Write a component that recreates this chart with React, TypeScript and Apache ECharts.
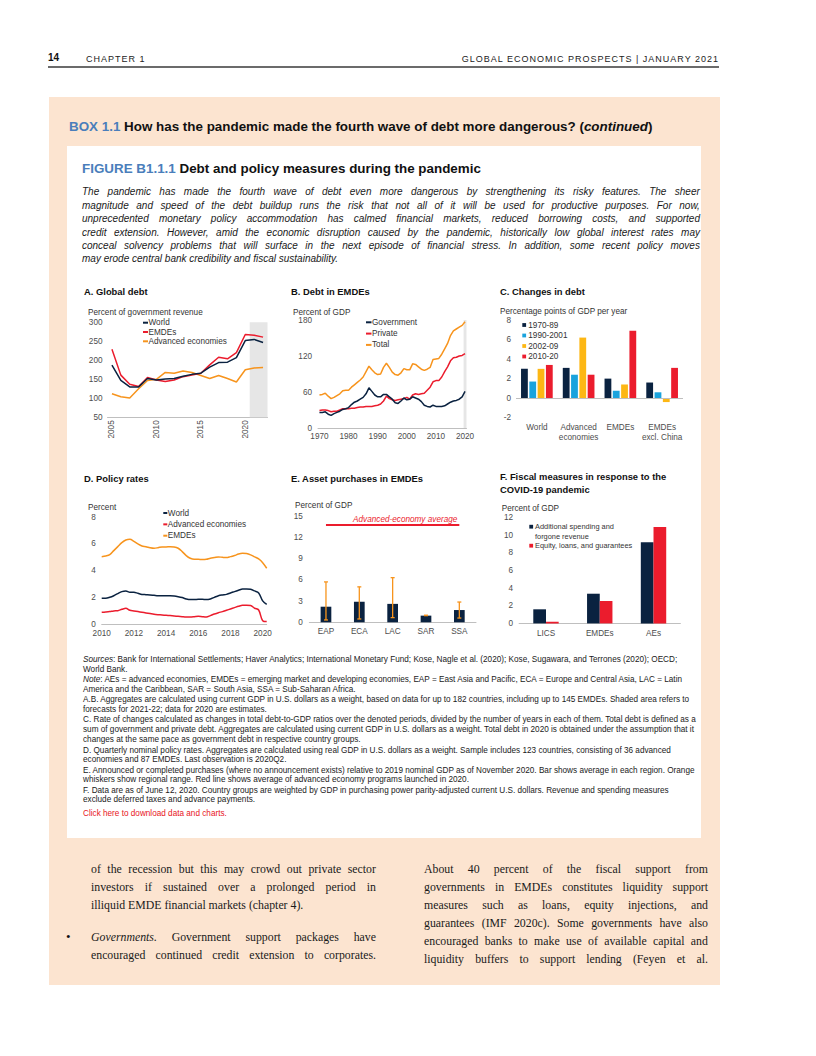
import React, { useEffect, useRef } from "react";
import * as echarts from "echarts";

const FONT = 'Arial, "Liberation Sans", Helvetica, sans-serif';
const SERIF = '"Liberation Serif", "Times New Roman", serif';
const NAVY = "#0A2240";
const RED = "#EB1C2D";
const ORANGE = "#F7941D";
const GOLD = "#FDB714";
const CYAN = "#1AA3DD";
const SHADE = "#E6E6E6";
const AXIS = "#BFBFBF";
const TICK = "#4D4D4D";
const BLUE_HEAD = "#4A7EBB";
const PEACH = "#FCE4D0";
const FS = 8.2;

// ---------- Panel A: Global debt (percent of government revenue) ----------
const yearsA = ["2005", "2006", "2007", "2008", "2009", "2010", "2011", "2012", "2013", "2014", "2015", "2016", "2017", "2018", "2019", "2020", "2021", "2022"];
const worldA = [187, 147, 130, 130, 152, 148, 151, 152, 158, 163, 166, 182, 194, 195, 207, 252, 255, 247];
const emdeA = [229, 161, 137, 131, 155, 148, 144, 148, 157, 161, 166, 188, 208, 204, 220, 268, 266, 261];
const advA = [112, 104, 101, 125, 147, 150, 168, 166, 172, 168, 160, 152, 160, 152, 143, 175, 180, 181];
const yRangeA = [50, 300, 50];
const forecastStartA = "2021";

// ---------- Panel B: Debt in EMDEs (percent of GDP) ----------
const yearsB = Array.from({ length: 51 }, (_, i) => String(1970 + i));
const govB = [26, 26, 27, 23, 21, 24, 26, 28, 31, 32,
  34, 39, 43, 45, 48, 51, 57, 67, 61, 55,
  52, 52, 56, 56, 52, 48, 42, 41, 45, 50,
  47, 48, 52, 50, 48, 44, 38, 36, 35, 38,
  36, 36, 36, 37, 40, 43, 45, 46, 48, 52,
  61];
const privB = [29, 30, 30, 29, 27, 28, 28, 30, 32, 32,
  32, 33, 33, 34, 35, 35, 36, 36, 36, 37,
  38, 40, 45, 53, 49, 47, 46, 47, 48, 49,
  51, 48, 55, 57, 56, 57, 58, 63, 68, 77,
  79, 79, 85, 94, 102, 112, 117, 118, 120, 121,
  124];
const totalB = [55, 56, 58, 53, 49, 51, 54, 57, 62, 63,
  63, 68, 72, 76, 80, 85, 94, 103, 97, 92,
  89, 90, 101, 108, 101, 93, 89, 88, 92, 99,
  97, 97, 107, 106, 102, 98, 96, 98, 101, 114,
  115, 116, 123, 132, 141, 154, 162, 165, 168, 171,
  177];
const yRangeB = [0, 180, 60];

// ---------- Panel C: Changes in debt ----------
const groupsC = ["World", "Advanced\neconomies", "EMDEs", "EMDEs\nexcl. China"];
const periodsC = ["1970-89", "1990-2001", "2002-09", "2010-20"];
const p1C = [3.0, 3.1, 2.0, 1.6];
const p2C = [1.7, 2.4, 0.75, 0.6];
const p3C = [3.0, 6.2, 1.4, -0.4];
const p4C = [3.4, 2.4, 6.9, 3.1];
const yRangeC = [-2, 8, 2];

// ---------- Panel D: Policy rates ----------
const quartersD: string[] = [];
for (let y = 2010; y <= 2020; y++) for (let q = 1; q <= 4; q++) if (!(y === 2020 && q > 2)) quartersD.push(`${y}Q${q}`);
const worldD = [1.93, 1.93, 2.0, 2.12, 2.28, 2.43, 2.48, 2.38, 2.38, 2.3, 2.22, 2.2, 2.18, 2.15, 2.12, 2.12,
  2.12, 2.12, 2.1, 2.05, 1.98, 1.88, 1.83, 1.83, 1.85, 1.85, 1.83, 1.88, 2.0, 2.12, 2.18, 2.22,
  2.33, 2.43, 2.53, 2.63, 2.63, 2.6, 2.48, 2.33, 1.73, 1.48];
const advD = [0.88, 0.9, 0.93, 0.98, 1.0, 1.1, 1.18, 1.03, 0.98, 0.93, 0.88, 0.83, 0.78, 0.73, 0.7, 0.68,
  0.65, 0.63, 0.6, 0.58, 0.55, 0.53, 0.53, 0.55, 0.58, 0.55, 0.53, 0.63, 0.75, 0.85, 0.93, 1.03,
  1.13, 1.23, 1.33, 1.4, 1.4, 1.38, 1.18, 1.05, 0.25, 0.18];
const emdeD = [5.05, 5.1, 5.2, 5.5, 5.8, 6.1, 6.3, 6.35, 6.2, 6.0, 5.85, 5.8, 5.72, 5.68, 5.72, 5.78,
  5.78, 5.8, 5.78, 5.68, 5.43, 5.13, 4.93, 4.85, 4.85, 4.83, 4.85, 4.93, 4.98, 5.03, 5.0, 4.98,
  5.05, 5.13, 5.25, 5.3, 5.28, 5.18, 5.03, 4.88, 4.6, 4.18];
const yRangeD = [0, 8, 2];

// ---------- Panel E: Asset purchases in EMDEs ----------
const regionsE = ["EAP", "ECA", "LAC", "SAR", "SSA"];
const avgE = [2.2, 2.9, 2.6, 0.94, 1.73];
const lowE = [0.33, 0.47, 0.66, 0.94, 0.6];
const highE = [5.7, 5.0, 6.3, 1.0, 2.86];
const aeAverageE = 13.7;
const yRangeE = [0, 15, 3];

// ---------- Panel F: Fiscal measures ----------
const groupsF = ["LICS", "EMDEs", "AEs"];
const spendF = [1.6, 3.37, 9.2];
const equityF = [0.19, 2.54, 10.95];
const yRangeF = [0, 12, 2];

// ---------- helpers ----------
const labelStyle = { fontSize: FS, color: TICK, fontFamily: FONT };

function yAxisOf(range: number[], margin = 5) {
  return {
    type: "value", min: range[0], max: range[1], interval: range[2],
    axisLine: { show: false }, axisTick: { show: false }, splitLine: { show: false },
    axisLabel: { ...labelStyle, margin },
  };
}

function panelTitle(text: string, left: number, top: number) {
  return { text, left, top, padding: 0, textStyle: { fontFamily: FONT, fontSize: 9.4, fontWeight: "bold", color: "#111", lineHeight: 13 } };
}

function gText(text: string, x: number, y: number, extra: any = {}) {
  return {
    type: "text", x, y, silent: true,
    style: { text, fontSize: FS, fontFamily: FONT, fill: "#333", align: "left", verticalAlign: "middle", textAlign: "left", textVerticalAlign: "middle", ...extra },
  };
}

function lineLegend(names: string[], colors: string[], x1: number, x2: number, y0: number, step: number) {
  const els: any[] = [];
  names.forEach((n, i) => {
    const y = y0 + i * step;
    els.push({ type: "line", silent: true, shape: { x1, y1: y, x2, y2: y }, style: { stroke: colors[i], lineWidth: 2 } });
    els.push(gText(n, x2 + 0.5, y, { fill: "#333" }));
  });
  return els;
}

function boxLegend(names: string[], colors: string[], x: number, size: number, textX: number, y0: number, step: number) {
  const els: any[] = [];
  names.forEach((n, i) => {
    const y = y0 + i * step;
    els.push({ type: "rect", silent: true, shape: { x, y: y - size / 2, width: size, height: size }, style: { fill: colors[i] } });
    els.push(gText(n, textX, y));
  });
  return els;
}

function lineSeries(name: string, data: number[], color: string, smooth: any = false) {
  return { name, type: "line", data, symbol: "none", smooth, silent: true, lineStyle: { color, width: 1.5 }, itemStyle: { color } };
}

// ---------- options ----------
const optA = {
  animation: false,
  title: panelTitle("A. Global debt", 4, 4.5),
  graphic: [
    gText("Percent of government revenue", 8, 32),
    ...lineLegend(["World", "EMDEs", "Advanced economies"], [NAVY, RED, ORANGE], 63, 68, 42.7, 9.3),
  ],
  grid: { left: 27.5, top: 42.3, width: 160, height: 95 },
  xAxis: [
    {
      type: "category", data: yearsA, boundaryGap: true,
      axisLine: { lineStyle: { color: AXIS } }, axisTick: { show: false },
      axisLabel: { ...labelStyle, rotate: 90, margin: 3, interval: (_i: number, v: string) => Number(v) % 5 === 0 },
    },
    { type: "value", min: 0, max: yearsA.length, show: false },
  ],
  yAxis: yAxisOf(yRangeA, 5),
  series: [
    {
      type: "line", xAxisIndex: 1, data: [], silent: true,
      markArea: { silent: true, itemStyle: { color: SHADE }, data: [[{ xAxis: yearsA.indexOf(forecastStartA) }, { xAxis: yearsA.length }]] },
    },
    lineSeries("Advanced economies", advA, ORANGE),
    lineSeries("EMDEs", emdeA, RED),
    lineSeries("World", worldA, NAVY),
  ],
};

const optB = {
  animation: false,
  title: panelTitle("B. Debt in EMDEs", 6, 4.5),
  graphic: [
    gText("Percent of GDP", 8, 32),
    ...lineLegend(["Government", "Private", "Total"], [NAVY, RED, ORANGE], 81, 86.5, 42.3, 11.3),
  ],
  grid: { left: 33, top: 40, width: 148.5, height: 108 },
  xAxis: [
    {
      type: "category", data: yearsB, boundaryGap: true,
      axisLine: { lineStyle: { color: AXIS } }, axisTick: { show: false },
      axisLabel: { ...labelStyle, margin: 4, interval: (i: number) => i % 10 === 0 },
    },
    { type: "value", min: 0, max: yearsB.length, show: false },
  ],
  yAxis: yAxisOf(yRangeB, 6),
  series: [
    {
      type: "line", xAxisIndex: 1, data: [], silent: true,
      markArea: { silent: true, itemStyle: { color: SHADE }, data: [[{ xAxis: yearsB.length - 1 }, { xAxis: yearsB.length }]] },
    },
    lineSeries("Total", totalB, ORANGE),
    lineSeries("Private", privB, RED),
    lineSeries("Government", govB, NAVY),
  ],
};

const barC = (name: string, data: number[], color: string, extra: any = {}) => ({
  name, type: "bar", data, barWidth: 6.8, barGap: "22%", silent: true, itemStyle: { color }, ...extra,
});

const optC = {
  animation: false,
  title: panelTitle("C. Changes in debt", 10, 4.5),
  graphic: [
    gText("Percentage points of GDP per year", 10, 31),
    ...boxLegend(periodsC, [NAVY, CYAN, GOLD, RED], 32.3, 3.8, 38.3, 45, 10.5),
  ],
  grid: { left: 26, top: 40, width: 167, height: 97.7 },
  xAxis: {
    type: "category", data: groupsC,
    axisLine: { show: false, onZero: false }, axisTick: { show: false },
    axisLabel: { ...labelStyle, margin: 5, lineHeight: 10, interval: 0 },
  },
  yAxis: yAxisOf(yRangeC, 5),
  series: [
    barC(periodsC[0], p1C, NAVY, {
      markLine: { silent: true, symbol: ["none", "none"], label: { show: false }, lineStyle: { color: AXIS, width: 1, type: "solid" }, data: [{ yAxis: 0 }] },
    }),
    barC(periodsC[1], p2C, CYAN),
    barC(periodsC[2], p3C, GOLD),
    barC(periodsC[3], p4C, RED),
  ],
};

const optD = {
  animation: false,
  title: panelTitle("D. Policy rates", 4, 6.5),
  graphic: [
    gText("Percent", 8, 42.3),
    ...lineLegend(["World", "Advanced economies", "EMDEs"], [NAVY, RED, ORANGE], 83.3, 87.3, 48, 11.35),
  ],
  grid: { left: 21.7, top: 52.3, width: 165, height: 106.7 },
  xAxis: {
    type: "category", data: quartersD, boundaryGap: false,
    axisLine: { lineStyle: { color: AXIS } }, axisTick: { show: false },
    axisLabel: { ...labelStyle, margin: 5, interval: (i: number) => i % 8 === 0, formatter: (v: string) => v.slice(0, 4) },
  },
  yAxis: yAxisOf(yRangeD, 6),
  series: [
    lineSeries("EMDEs", emdeD, ORANGE, 0.35),
    lineSeries("Advanced economies", advD, RED, 0.35),
    lineSeries("World", worldD, NAVY, 0.35),
  ],
};

const optE = {
  animation: false,
  title: panelTitle("E. Asset purchases in EMDEs", 6, 6.5),
  graphic: [gText("Percent of GDP", 10, 40.7)],
  grid: { left: 24.3, top: 51, width: 166.7, height: 106.3 },
  xAxis: {
    type: "category", data: regionsE,
    axisLine: { lineStyle: { color: AXIS } }, axisTick: { show: false },
    axisLabel: { ...labelStyle, margin: 5 },
  },
  yAxis: yAxisOf(yRangeE, 6.5),
  series: [
    {
      name: "Average", type: "bar", data: avgE, barWidth: 10.7, silent: true, itemStyle: { color: NAVY },
      markLine: {
        silent: true, symbol: ["none", "none"],
        lineStyle: { color: RED, width: 2, type: "solid" },
        label: { show: true, position: "insideEndTop", formatter: "Advanced-economy average", color: RED, fontStyle: "italic", fontSize: FS, fontFamily: FONT, distance: 2 },
        data: [[{ coord: [regionsE[0], aeAverageE] }, { coord: [regionsE[regionsE.length - 1], aeAverageE] }]],
      },
    },
    {
      name: "Range", type: "custom", silent: true, z: 5,
      data: lowE.map((lo, i) => [i, lo, highE[i]]),
      encode: { x: 0, y: [1, 2] },
      renderItem: (_p: any, api: any) => {
        const i = api.value(0);
        const lo = api.coord([i, api.value(1)]);
        const hi = api.coord([i, api.value(2)]);
        const cap = 2;
        const st = { stroke: ORANGE, lineWidth: 1.3 };
        return {
          type: "group",
          children: [
            { type: "line", shape: { x1: lo[0], y1: lo[1], x2: hi[0], y2: hi[1] }, style: st },
            { type: "line", shape: { x1: lo[0] - cap, y1: lo[1], x2: lo[0] + cap, y2: lo[1] }, style: st },
            { type: "line", shape: { x1: hi[0] - cap, y1: hi[1], x2: hi[0] + cap, y2: hi[1] }, style: st },
          ],
        };
      },
    },
  ],
};

const FLEG = 7.4;
const optF = {
  animation: false,
  title: panelTitle("F. Fiscal measures in response to the\nCOVID-19 pandemic", 10, 4.5),
  graphic: [
    gText("Percent of GDP", 11.7, 43.3),
    { type: "rect", silent: true, shape: { x: 39.3, y: 61.7 - 1.9, width: 3.8, height: 3.8 }, style: { fill: NAVY } },
    gText("Additional spending and\nforgone revenue", 45, 61.7 - 4.7, { verticalAlign: "top", textVerticalAlign: "top", lineHeight: 9.4, fontSize: FLEG }),
    { type: "rect", silent: true, shape: { x: 39.3, y: 80.7 - 1.9, width: 3.8, height: 3.8 }, style: { fill: RED } },
    gText("Equity, loans, and guarantees", 45, 80.7, { fontSize: FLEG }),
  ],
  grid: { left: 29.1, top: 52.7, width: 161.3, height: 105.7 },
  xAxis: {
    type: "category", data: groupsF,
    axisLine: { lineStyle: { color: AXIS } }, axisTick: { show: false },
    axisLabel: { ...labelStyle, margin: 6 },
  },
  yAxis: yAxisOf(yRangeF, 6),
  series: [
    { name: "Additional spending and forgone revenue", type: "bar", data: spendF, barWidth: 12.7, barGap: "0%", silent: true, itemStyle: { color: NAVY } },
    { name: "Equity, loans, and guarantees", type: "bar", data: equityF, barWidth: 12.7, barGap: "0%", silent: true, itemStyle: { color: RED } },
  ],
};

// ---------- components ----------
function Chart({ left, top, width, height, option }: any) {
  const ref = useRef<HTMLDivElement>(null);
  useEffect(() => {
    const c = echarts.init(ref.current!, null, { renderer: "svg" });
    c.setOption(option);
    return () => c.dispose();
  }, []);
  return <div ref={ref} style={{ position: "absolute", left, top, width, height }} />;
}

function segs(text: string) {
  return text.split("*").map((s, i) => (i % 2 === 1 ? <span key={i} style={{ fontStyle: "italic" }}>{s}</span> : <span key={i}>{s}</span>));
}

function JLine({ text, left, top, width, justify, style }: any) {
  if (!justify) {
    return <div style={{ position: "absolute", left, top, whiteSpace: "nowrap", ...style }}>{segs(text)}</div>;
  }
  const words = text.split(" ");
  return (
    <div style={{ position: "absolute", left, top, width, display: "flex", justifyContent: "space-between", whiteSpace: "nowrap", ...style }}>
      {words.map((w: string, i: number) => {
        const it = w.startsWith("*") && w.endsWith("*");
        return <span key={i} style={it ? { fontStyle: "italic" } : undefined}>{it ? w.slice(1, -1) : w}</span>;
      })}
    </div>
  );
}

const introLines = [
  "The pandemic has made the fourth wave of debt even more dangerous by strengthening its risky features. The sheer",
  "magnitude and speed of the debt buildup runs the risk that not all of it will be used for productive purposes. For now,",
  "unprecedented monetary policy accommodation has calmed financial markets, reduced borrowing costs, and supported",
  "credit extension. However, amid the economic disruption caused by the pandemic, historically low global interest rates may",
  "conceal solvency problems that will surface in the next episode of financial stress. In addition, some recent policy moves",
  "may erode central bank credibility and fiscal sustainability.",
];
const introY = [191.5, 205, 218.5, 232, 245, 258.5];

const noteLines = [
  "*Sources*: Bank for International Settlements; Haver Analytics; International Monetary Fund; Kose, Nagle et al. (2020); Kose, Sugawara, and Terrones (2020); OECD;",
  "World Bank.",
  "*Note*: AEs = advanced economies, EMDEs = emerging market and developing economies, EAP = East Asia and Pacific, ECA = Europe and Central Asia, LAC = Latin",
  "America and the Caribbean, SAR = South Asia, SSA = Sub-Saharan Africa.",
  "A.B. Aggregates are calculated using current GDP in U.S. dollars as a weight, based on data for up to 182 countries, including up to 145 EMDEs. Shaded area refers to",
  "forecasts for 2021-22; data for 2020 are estimates.",
  "C. Rate of changes calculated as changes in total debt-to-GDP ratios over the denoted periods, divided by the number of years in each of them. Total debt is defined as a",
  "sum of government and private debt. Aggregates are calculated using current GDP in U.S. dollars as a weight. Total debt in 2020 is obtained under the assumption that it",
  "changes at the same pace as government debt in respective country groups.",
  "D. Quarterly nominal policy rates. Aggregates are calculated using real GDP in U.S. dollars as a weight. Sample includes 123 countries, consisting of 36 advanced",
  "economies and 87 EMDEs. Last observation is 2020Q2.",
  "E. Announced or completed purchases (where no announcement exists) relative to 2019 nominal GDP as of November 2020. Bar shows average in each region. Orange",
  "whiskers show regional range. Red line shows average of advanced economy programs launched in 2020.",
  "F. Data are as of June 12, 2020. Country groups are weighted by GDP in purchasing power parity-adjusted current U.S. dollars. Revenue and spending measures",
  "exclude deferred taxes and advance payments.",
];
const noteY = [660, 669.5, 680, 689.5, 700, 709.5, 720, 729.5, 739.5, 750.5, 760, 770.5, 780, 790.5, 800];
const NOTE_FS = 8.2;

const leftCol = [
  { t: "of the recession but this may crowd out private sector", y: 869, j: true },
  { t: "investors if sustained over a prolonged period in", y: 887, j: true },
  { t: "illiquid EMDE financial markets (chapter 4).", y: 905, j: false },
  { t: "*Governments.* Government support packages have", y: 937, j: true },
  { t: "encouraged continued credit extension to corporates.", y: 955, j: true },
];
const rightCol = [
  "About 40 percent of the fiscal support from",
  "governments in EMDEs constitutes liquidity support",
  "measures such as loans, equity injections, and",
  "guarantees (IMF 2020c). Some governments have also",
  "encouraged banks to make use of available capital and",
  "liquidity buffers to support lending (Feyen et al.",
];
const rightY = [869, 887, 905, 923, 941, 959];

export default function App() {
  const abs = (o: any) => ({ position: "absolute", ...o });
  return (
    <div style={{ position: "absolute", left: 0, top: 0, width: 816, height: 1056, background: "#fff", fontFamily: FONT, color: "#111", overflow: "hidden" }}>
      {/* running header */}
      <div style={abs({ left: 48, top: 52, fontSize: 10, fontWeight: "bold", lineHeight: "12px" })}>14</div>
      <div style={abs({ left: 86, top: 52.5, fontSize: 9, letterSpacing: 1, lineHeight: "12px", color: "#222" })}>CHAPTER 1</div>
      <div style={abs({ right: 97, top: 52.5, fontSize: 9, letterSpacing: 1, lineHeight: "12px", color: "#222", whiteSpace: "nowrap" })}>GLOBAL ECONOMIC PROSPECTS | JANUARY 2021</div>
      <div style={abs({ left: 48, top: 66, width: 671, height: 1.5, background: "#6b6b6b" })} />

      {/* box background */}
      <div style={abs({ left: 49, top: 97, width: 671, height: 888, background: PEACH })} />
      <div style={abs({ left: 69, top: 117.5, fontSize: 13.4, fontWeight: "bold", lineHeight: "17px", whiteSpace: "nowrap" })}>
        <span style={{ color: BLUE_HEAD }}>BOX 1.1</span> How has the pandemic made the fourth wave of debt more dangerous? (<i>continued</i>)
      </div>
      <div style={abs({ left: 67, top: 146, width: 634, height: 692, background: "#fff" })} />

      <div style={abs({ left: 82, top: 159.5, fontSize: 13.4, fontWeight: "bold", lineHeight: "17px", whiteSpace: "nowrap" })}>
        <span style={{ color: BLUE_HEAD }}>FIGURE B1.1.1</span> Debt and policy measures during the pandemic
      </div>
      {introLines.map((t, i) => (
        <JLine key={i} text={t} left={82} top={introY[i] - 6.5} width={618} justify={i < introLines.length - 1}
          style={{ fontSize: 10, fontStyle: "italic", lineHeight: "13px", color: "#1a1a1a" }} />
      ))}

      {/* charts */}
      <Chart left={80} top={280} width={205} height={170} option={optA} />
      <Chart left={285} top={280} width={205} height={170} option={optB} />
      <Chart left={490} top={280} width={210} height={170} option={optC} />
      <Chart left={80} top={465} width={205} height={180} option={optD} />
      <Chart left={285} top={465} width={205} height={180} option={optE} />
      <Chart left={490} top={465} width={210} height={180} option={optF} />

      {/* notes */}
      {noteLines.map((t, i) => (
        <JLine key={i} text={t} left={83} top={noteY[i] - 4.75} justify={false}
          style={{ fontSize: NOTE_FS, lineHeight: "9.5px", color: "#1a1a1a" }} />
      ))}
      <div style={abs({ left: 83, top: 813.5 - 4.75, fontSize: NOTE_FS, lineHeight: "9.5px", color: "#E8141C", whiteSpace: "nowrap" })}>Click here to download data and charts.</div>

      {/* body text */}
      {leftCol.map((l, i) => (
        <JLine key={i} text={l.t} left={91} top={l.y - 9} width={285} justify={l.j}
          style={{ fontFamily: SERIF, fontSize: 11.8, lineHeight: "18px", color: "#1a1a1a" }} />
      ))}
      <div style={abs({ left: 66, top: 937 - 9, fontFamily: SERIF, fontSize: 13, lineHeight: "18px" })}>•</div>
      {rightCol.map((t, i) => (
        <JLine key={i} text={t} left={424} top={rightY[i] - 9} width={284} justify={true}
          style={{ fontFamily: SERIF, fontSize: 11.8, lineHeight: "18px", color: "#1a1a1a" }} />
      ))}
    </div>
  );
}
